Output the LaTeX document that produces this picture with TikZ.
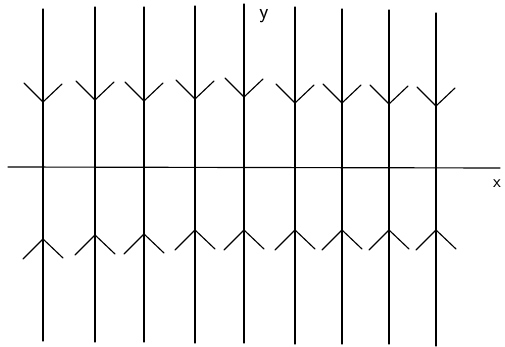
\documentclass[tikz,border=0pt]{standalone}
\usepackage{fontspec}
\setmainfont{DejaVu Sans}
\usetikzlibrary{calc}
\begin{document}
\begin{tikzpicture}[x=1pt,y=-1pt,
  stroke/.style={line width=1.15pt,line cap=round,line join=round,black},
  lbl/.style={inner sep=0pt,font=\fontsize{21}{21}\selectfont\sffamily}]
\useasboundingbox (0,0) rectangle (505,347);
% x-axis
\coordinate (xa) at (8,167);
\coordinate (xb) at (500,168);
\draw[stroke] (xa) -- (xb);
% vertical trajectories: x, top, bottom, down-tip, up-tip
\foreach \px/\top/\bot/\dt/\ut [count=\i] in
  {43/9/341/102/239, 95/7/342/100/235, 144/7/342/101/234,
   195/6/343/99/230, 244/4/343/97/230, 295/7/344/103/230,
   342/9/344/103/230, 389/10/344/104/230, 436/13/346/106/230}{
  \coordinate (t\i) at (\px,\top);
  \coordinate (b\i) at (\px,\bot);
  \draw[stroke] (t\i) -- (b\i);
  % downward chevron above the axis
  \coordinate (d\i) at (\px,\dt);
  \draw[stroke] ($(d\i)+(-19,-19)$) -- (d\i) -- ($(d\i)+(19,-18)$);
  % upward chevron below the axis
  \coordinate (u\i) at (\px,\ut);
  \draw[stroke] ($(u\i)+(-20,20)$) -- (u\i) -- ($(u\i)+(20,19)$);
}
\node[lbl,anchor=north] (ylab) at (264,9) {y};
\node[lbl,font=\fontsize{18}{18}\selectfont\sffamily] (xlab) at (497,184) {x};
\end{tikzpicture}
\end{document}
